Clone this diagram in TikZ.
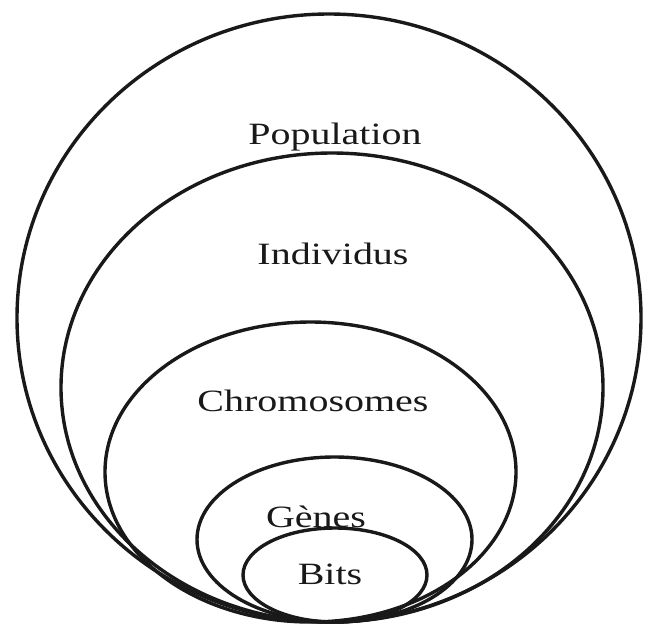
\documentclass[tikz,border=0pt]{standalone}
\usepackage{fontspec}
\usepackage{graphicx}
\setmainfont{Liberation Serif}
\begin{document}
\begin{tikzpicture}[x=1pt,y=-1pt,
  ring/.style={draw=black!90,line width=3.4pt},
  lbl/.style={inner sep=0pt,font=\fontsize{31}{31}\selectfont,text=black!90}]
\useasboundingbox[fill=white] (0,0) rectangle (645,630);
% nested sets, all tangent at the bottom
\draw[ring] (329,318) ellipse [x radius=312pt, y radius=304pt];
\draw[ring] (332,387.5) ellipse [x radius=271pt, y radius=234.5pt];
\draw[ring] (310.5,472) ellipse [x radius=205.5pt, y radius=150pt];
\draw[ring] (334.5,539.5) ellipse [x radius=137.5pt, y radius=82.5pt];
\draw[ring] (335,575) ellipse [x radius=92pt, y radius=47pt];
% labels
\node[lbl] (pop) at (335,137) {\scalebox{1.29}[1]{Population}};
\node[lbl] (ind) at (333,254) {\scalebox{1.29}[1]{Individus}};
\node[lbl] (chr) at (313,401) {\scalebox{1.29}[1]{Chromosomes}};
\node[lbl] (gen) at (316,517) {\scalebox{1.29}[1]{Gènes}};
\node[lbl] (bit) at (330,574) {\scalebox{1.29}[1]{Bits}};
\end{tikzpicture}
\end{document}
